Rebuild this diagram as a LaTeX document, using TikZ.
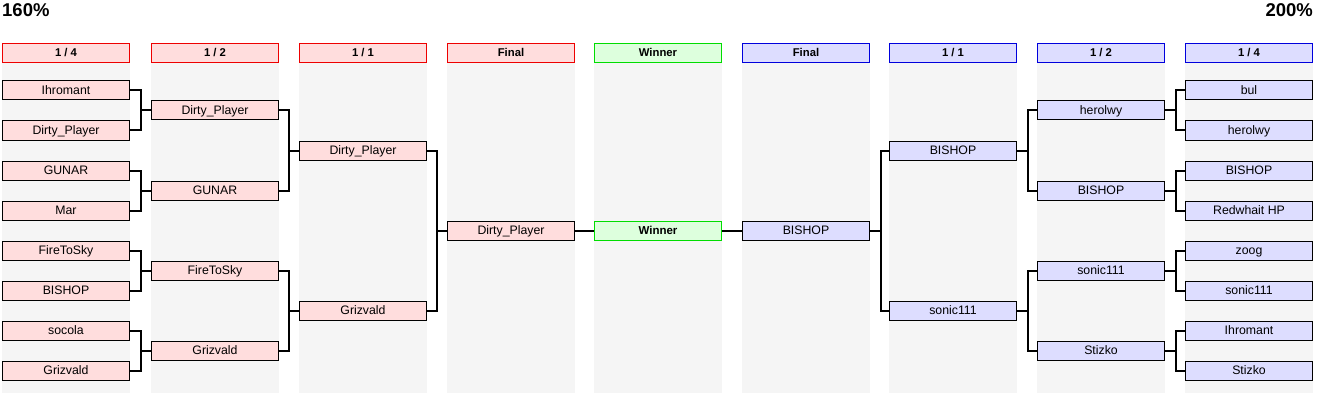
\documentclass[tikz,border=0pt]{standalone}
\usepackage{fontspec}
\setmainfont{Liberation Sans}
\definecolor{pinkf}{HTML}{FFDDDD}
\definecolor{bluef}{HTML}{DDDDFF}
\definecolor{greenf}{HTML}{DDFFDD}
\definecolor{redb}{HTML}{EE0000}
\definecolor{blueb}{HTML}{0000DD}
\definecolor{greenb}{HTML}{00DD00}
\definecolor{bgrey}{HTML}{F5F5F5}
\begin{document}
\begin{tikzpicture}[x=1pt,y=-1pt,
  box/.style={draw=black,line width=1pt,minimum width=127pt,minimum height=19pt,inner sep=0pt,text height=11pt,text depth=2.2pt,font=\fontsize{12.3}{14}\selectfont},
  lbox/.style={box,fill=pinkf},
  rbox/.style={box,fill=bluef},
  wbox/.style={box,fill=greenf,draw=greenb,font=\fontsize{11.5}{13}\selectfont\bfseries},
  hdr/.style={box,text height=10pt,text depth=2pt,font=\fontsize{11.3}{12}\selectfont\bfseries},
  lhdr/.style={hdr,fill=pinkf,draw=redb},
  rhdr/.style={hdr,fill=bluef,draw=blueb},
  whdr/.style={hdr,fill=greenf,draw=greenb},
  conn/.style={line width=2pt},
  bgcol/.style={fill=bgrey,draw=none}]
\useasboundingbox (0,0) rectangle (1319,393);
% background columns
\foreach \x in {2,151,299,447,594,742,889,1037,1185}
  \fill[bgcol] (\x,62) rectangle ++(128,331);
% titles
\node[anchor=north west,inner sep=0pt,font=\fontsize{18.5}{20}\selectfont\bfseries] (pl) at (2,3) {160\%};
\node[anchor=north east,inner sep=0pt,font=\fontsize{18.5}{20}\selectfont\bfseries] (pr) at (1313,3) {200\%};
% headers
\node[lhdr] (h1) at (66,53) {1 / 4};
\node[lhdr] (h2) at (215,53) {1 / 2};
\node[lhdr] (h3) at (363,53) {1 / 1};
\node[lhdr] (h4) at (511,53) {Final};
\node[whdr] (hw) at (658,53) {Winner};
\node[rhdr] (h5) at (806,53) {Final};
\node[rhdr] (h6) at (953,53) {1 / 1};
\node[rhdr] (h7) at (1101,53) {1 / 2};
\node[rhdr] (h8) at (1249,53) {1 / 4};
% left round 1
\node[lbox] (a1) at (66,90.5) {Ihromant};
\node[lbox] (a2) at (66,130.5) {Dirty\_Player};
\node[lbox] (a3) at (66,170.5) {GUNAR};
\node[lbox] (a4) at (66,210.5) {Mar};
\node[lbox] (a5) at (66,250.5) {FireToSky};
\node[lbox] (a6) at (66,290.5) {BISHOP};
\node[lbox] (a7) at (66,330.5) {socola};
\node[lbox] (a8) at (66,370.5) {Grizvald};
% left round 2
\node[lbox] (b1) at (215,110.5) {Dirty\_Player};
\node[lbox] (b2) at (215,190.5) {GUNAR};
\node[lbox] (b3) at (215,270.5) {FireToSky};
\node[lbox] (b4) at (215,350.5) {Grizvald};
% left round 3
\node[lbox] (c1) at (363,150.5) {Dirty\_Player};
\node[lbox] (c2) at (363,310.5) {Grizvald};
% left final
\node[lbox] (d1) at (511,230.5) {Dirty\_Player};
% winner
\node[wbox] (w) at (658,230.5) {Winner};
% right final
\node[rbox] (e1) at (806,230.5) {BISHOP};
% right round 3
\node[rbox] (f1) at (953,150.5) {BISHOP};
\node[rbox] (f2) at (953,310.5) {sonic111};
% right round 2
\node[rbox] (g1) at (1101,110.5) {herolwy};
\node[rbox] (g2) at (1101,190.5) {BISHOP};
\node[rbox] (g3) at (1101,270.5) {sonic111};
\node[rbox] (g4) at (1101,350.5) {Stizko};
% right round 1
\node[rbox] (k1) at (1249,90.5) {bul};
\node[rbox] (k2) at (1249,130.5) {herolwy};
\node[rbox] (k3) at (1249,170.5) {BISHOP};
\node[rbox] (k4) at (1249,210.5) {Redwhait HP};
\node[rbox] (k5) at (1249,250.5) {zoog};
\node[rbox] (k6) at (1249,290.5) {sonic111};
\node[rbox] (k7) at (1249,330.5) {Ihromant};
\node[rbox] (k8) at (1249,370.5) {Stizko};
% connectors
\begin{scope}[conn]
  \foreach \p/\q/\m in {a1/a2/b1,a3/a4/b2,a5/a6/b3,a7/a8/b4,b1/b2/c1,b3/b4/c2,c1/c2/d1}{
    \draw (\p.east) -| ([xshift=-10.5pt]\m.west) |- (\q.east);
    \draw ([xshift=-10.5pt]\m.west) -- (\m.west);
  }
  \foreach \p/\q/\m in {k1/k2/g1,k3/k4/g2,k5/k6/g3,k7/k8/g4,g1/g2/f1,g3/g4/f2,f1/f2/e1}{
    \draw (\p.west) -| ([xshift=10.5pt]\m.east) |- (\q.west);
    \draw ([xshift=10.5pt]\m.east) -- (\m.east);
  }
  \draw (d1.east) -- (w.west);
  \draw (w.east) -- (e1.west);
\end{scope}
\end{tikzpicture}
\end{document}
